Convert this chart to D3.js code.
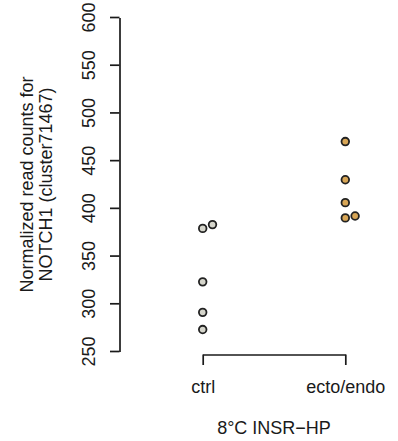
<!DOCTYPE html>
<html><head><meta charset="utf-8">
<script src="https://cdn.jsdelivr.net/npm/d3@7"></script>
<style>body{margin:0;background:#fff}svg{display:block}text{font-family:"Liberation Sans",Arial,sans-serif;fill:#1a1a1a}</style>
</head><body><svg id="c" width="398" height="441"></svg>
<script>
const categories = ["ctrl", "ecto/endo"];
const ctrlValues = [379, 383, 323, 291, 273];
const ectoValues = [470, 430, 406, 390, 392];
const ctrlOffsets = [0, 1, 0, 0, 0];
const ectoOffsets = [0, 0, 0, 0, 1];
const yTicks = [250, 300, 350, 400, 450, 500, 550, 600];
const colors = ["#d5d5cb", "#d8a656"];

const svg = d3.select("#c");
const fs = 18;
const y = d3.scaleLinear().domain([250, 600]).range([351.5, 17.5]);
const x = d3.scalePoint().domain(categories).range([202.7, 345.3]);
const jitter = 9.8;

// Y axis
const yAxis = d3.axisLeft(y).tickValues(yTicks).tickSize(9.5).tickSizeOuter(0).tickFormat(d3.format("d"));
const ga = svg.append("g").attr("transform", "translate(119.5,0)").call(yAxis);
ga.select(".domain").attr("stroke", "#1a1a1a").attr("stroke-width", 1.7);
ga.selectAll(".tick line").attr("stroke", "#1a1a1a").attr("stroke-width", 1.7);
ga.selectAll(".tick text").attr("font-size", fs).attr("fill", "#1a1a1a")
  .attr("text-anchor", "middle").attr("dy", 0)
  .attr("transform", d => `translate(-24.5,${y(d)}) rotate(-90)`)
  .attr("x", 0).attr("y", 0);
ga.selectAll(".tick").attr("transform", "translate(0,0)");
ga.selectAll(".tick line").attr("y1", d => y(d)).attr("y2", d => y(d));
ga.attr("font-family", null);

// X bracket axis
const xAxis = d3.axisBottom(x).tickSize(10.5).tickSizeOuter(0);
const gx = svg.append("g").attr("transform", "translate(0,354.5)").call(xAxis);
gx.select(".domain").attr("stroke", "#1a1a1a").attr("stroke-width", 1.7);
gx.selectAll(".tick line").attr("stroke", "#1a1a1a").attr("stroke-width", 1.7);
gx.selectAll(".tick text").attr("font-size", fs).attr("fill", "#1a1a1a").attr("dy", 0).attr("y", 38.5);
gx.attr("font-family", null);

// points
const groups = [
  {cat: categories[0], vals: ctrlValues, offs: ctrlOffsets, color: colors[0]},
  {cat: categories[1], vals: ectoValues, offs: ectoOffsets, color: colors[1]}
];
groups.forEach(g => {
  svg.append("g").selectAll("circle").data(g.vals).join("circle")
    .attr("cx", (d, i) => x(g.cat) + g.offs[i] * jitter)
    .attr("cy", d => y(d))
    .attr("r", 3.8)
    .attr("fill", g.color)
    .attr("stroke", "#222")
    .attr("stroke-width", 1.8);
});

// Axis titles
const yt = svg.append("text").attr("transform", `translate(0,${(351.5 + 17.5) / 2}) rotate(-90)`)
  .attr("text-anchor", "middle").attr("font-size", fs);
yt.append("tspan").attr("x", 0).attr("y", 33).text("Normalized read counts for");
yt.append("tspan").attr("x", 0).attr("y", 52).text("NOTCH1 (cluster71467)");

svg.append("text").attr("x", (x(categories[0]) + x(categories[1])) / 2).attr("y", 434)
  .attr("text-anchor", "middle").attr("font-size", fs).text("8°C INSR\u2212HP");
</script></body></html>
